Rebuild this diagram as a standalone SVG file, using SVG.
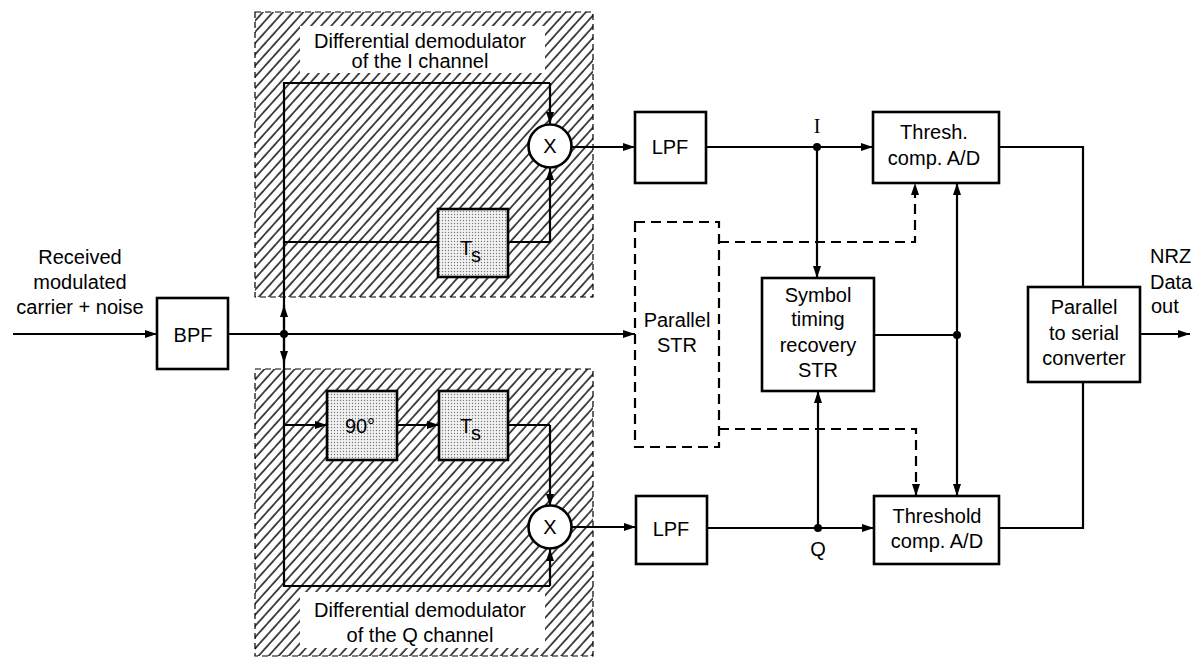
<svg xmlns="http://www.w3.org/2000/svg" width="1199" height="657" viewBox="0 0 1199 657">
<style>
text{font-family:"Liberation Sans",Arial,sans-serif;font-size:20px;fill:#000;text-anchor:middle}
.box{fill:#fff;stroke:#000;stroke-width:2.6}
.stip{fill:url(#stipple);stroke:#000;stroke-width:2.6}
.ln{fill:none;stroke:#000;stroke-width:2.2}
.arr{fill:none;stroke:#000;stroke-width:2.2;marker-end:url(#ah)}
.dash{fill:none;stroke:#000;stroke-width:2.2;stroke-dasharray:10 6}
.dasharr{fill:none;stroke:#000;stroke-width:2.2;stroke-dasharray:10 6;marker-end:url(#ah)}
.hatch{fill:url(#hatch);stroke:#000;stroke-width:1.2;stroke-dasharray:6 4}
</style>
<defs>
<pattern id="hatch" width="7.5" height="7.5" patternUnits="userSpaceOnUse" patternTransform="rotate(42)">
<line x1="1" y1="0" x2="1" y2="7.5" stroke="#000" stroke-width="1.4"/>
</pattern>
<pattern id="stipple" width="3" height="3" patternUnits="userSpaceOnUse">
<rect width="3" height="3" fill="#f2f2f2"/>
<circle cx="1.5" cy="1.5" r="0.7" fill="#777"/>
</pattern>
<marker id="ah" viewBox="0 0 12 8" refX="12" refY="4" markerWidth="12" markerHeight="8" markerUnits="userSpaceOnUse" orient="auto">
<path d="M0,0 L12,4 L0,8 z" fill="#000"/>
</marker>
</defs>
<rect width="1199" height="657" fill="#fff"/>

<g id="demod-I">
<rect class="hatch" x="255" y="12" width="338" height="285"/>
<rect x="300" y="26" width="245" height="47" fill="#fff"/>
<text x="420" y="48" font-size="22">Differential demodulator</text>
<text x="420" y="68" font-size="22">of the I channel</text>
</g>
<g id="demod-Q">
<rect class="hatch" x="255" y="369" width="338" height="287"/>
<rect x="300" y="592" width="245" height="56" fill="#fff"/>
<text x="420" y="617" font-size="22">Differential demodulator</text>
<text x="420" y="642" font-size="22">of the Q channel</text>
</g>

<g id="connectors">
<path class="arr" d="M13,334 H157"/>
<path class="arr" d="M228,334 H635"/>
<path class="ln" d="M284,334 V83 H550"/>
<path class="arr" d="M550,83 V124"/>
<path class="arr" d="M284,334 V305"/>
<path class="ln" d="M284,242 H438"/>
<path class="ln" d="M508,242 H550"/>
<path class="arr" d="M550,242 V168"/>
<path class="ln" d="M284,334 V586 H550"/>
<path class="arr" d="M550,586 V549"/>
<path class="arr" d="M284,334 V363"/>
<path class="arr" d="M284,425 H327"/>
<path class="arr" d="M397,425 H439"/>
<path class="ln" d="M508,425 H550"/>
<path class="arr" d="M550,425 V506"/>
<path class="arr" d="M572,147 H635"/>
<path class="arr" d="M572,527 H636"/>
<path class="arr" d="M706,147 H873"/>
<path class="arr" d="M817,147 V278"/>
<path class="arr" d="M707,528 H874"/>
<path class="arr" d="M818,528 V391"/>
<path class="ln" d="M874,335 H957"/>
<path class="arr" d="M957,335 V183"/>
<path class="arr" d="M957,335 V496"/>
<path class="dasharr" d="M719,242 H915 V183"/>
<path class="dasharr" d="M719,429 H916 V496"/>
<path class="ln" d="M999,147 H1083 V287"/>
<path class="ln" d="M999,528 H1083 V382"/>
<path class="arr" d="M1140,334 H1190"/>
<circle cx="284" cy="334" r="4"/>
<circle cx="817" cy="147" r="4"/>
<circle cx="818" cy="528" r="4"/>
<circle cx="957" cy="335" r="4"/>
</g>

<g id="input-label">
<text x="80" y="264">Received</text>
<text x="80" y="289">modulated</text>
<text x="80" y="314">carrier + noise</text>
</g>
<g id="bpf"><rect class="box" x="157" y="298" width="71" height="71"/><text x="193" y="342">BPF</text></g>
<g id="ts-I"><rect class="stip" x="438" y="209" width="70" height="68"/><text x="466" y="255">T</text><text x="476" y="262" font-size="12">s</text></g>
<g id="mult-I"><circle cx="550" cy="146" r="21.5" fill="#fff" stroke="#000" stroke-width="2.6"/><text x="550" y="153">X</text></g>
<g id="phase90"><rect class="stip" x="327" y="391" width="70" height="69"/><text x="360" y="433">90°</text></g>
<g id="ts-Q"><rect class="stip" x="439" y="391" width="69" height="69"/><text x="466" y="433">T</text><text x="476" y="440" font-size="12">s</text></g>
<g id="mult-Q"><circle cx="550" cy="527" r="21.5" fill="#fff" stroke="#000" stroke-width="2.6"/><text x="550" y="534">X</text></g>
<g id="lpf-I"><rect class="box" x="635" y="112" width="71" height="71"/><text x="670" y="154">LPF</text></g>
<g id="lpf-Q"><rect class="box" x="636" y="496" width="71" height="68"/><text x="671" y="536">LPF</text></g>
<g id="parallel-str"><rect class="dash" x="635" y="222" width="84" height="225"/><text x="677" y="327">Parallel</text><text x="677" y="352">STR</text></g>
<g id="str"><rect class="box" x="762" y="278" width="112" height="113"/><text x="818" y="302">Symbol</text><text x="818" y="326">timing</text><text x="818" y="352">recovery</text><text x="818" y="377">STR</text></g>
<g id="label-I"><text x="817" y="133" style="font-family:'Liberation Serif',serif">I</text></g>
<g id="label-Q"><text x="818" y="556">Q</text></g>
<g id="thresh-I"><rect class="box" x="873" y="112" width="126" height="71"/><text x="934" y="139">Thresh.</text><text x="934" y="165">comp. A/D</text></g>
<g id="thresh-Q"><rect class="box" x="874" y="496" width="125" height="68"/><text x="937" y="523">Threshold</text><text x="937" y="548">comp. A/D</text></g>
<g id="p2s"><rect class="box" x="1028" y="287" width="112" height="95"/><text x="1084" y="314">Parallel</text><text x="1084" y="340">to serial</text><text x="1084" y="365">converter</text></g>
<g id="output-label"><text x="1150" y="263" style="text-anchor:start">NRZ</text><text x="1150" y="289" style="text-anchor:start">Data</text><text x="1151" y="313" style="text-anchor:start">out</text></g>
</svg>
